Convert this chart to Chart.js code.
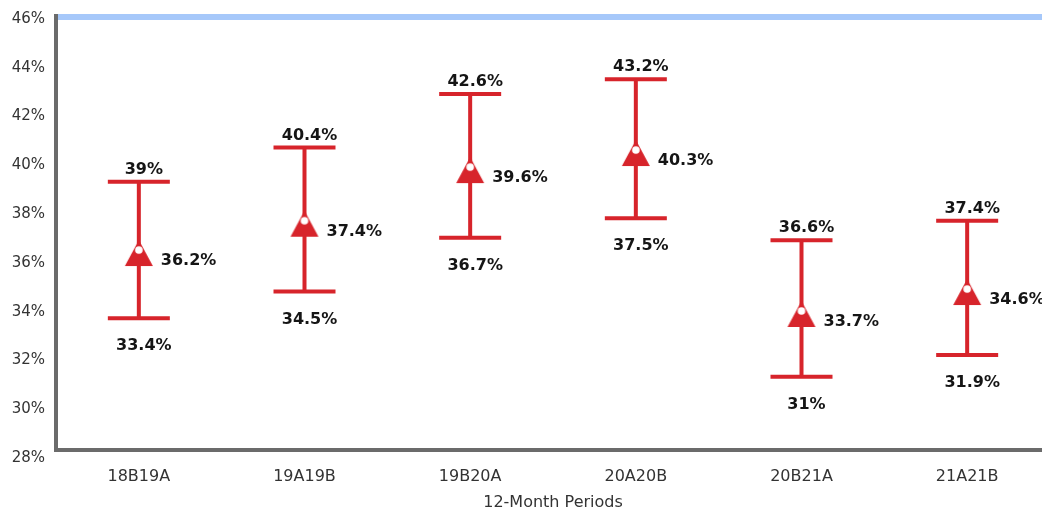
<!DOCTYPE html>
<html>
<head>
<meta charset="utf-8">
<script src="https://cdn.jsdelivr.net/npm/chart.js@4/dist/chart.umd.min.js"></script>
<style>
  html, body { margin: 0; padding: 0; overflow: hidden; background: #fff; }
  canvas { display: block; }
</style>
</head>
<body>
<canvas id="chart" width="1050" height="512"></canvas>
<script>
// 12-month periods and their estimated rate with lower / upper bounds (%)
const periods    = ['18B19A', '19A19B', '19B20A', '20A20B', '20B21A', '21A21B'];
const meanRate   = [36.2, 37.4, 39.6, 40.3, 33.7, 34.6];
const upperBound = [39, 40.4, 42.6, 43.2, 36.6, 37.4];
const lowerBound = [33.4, 34.5, 36.7, 37.5, 31, 31.9];
const yTickValues = [28, 30, 32, 34, 36, 38, 40, 42, 44, 46];

const RED = '#d7242b';
const AXIS_GREY = '#6b6b6b';
const LABEL_FONT = 'bold 16px "DejaVu Sans", sans-serif';
const FONT_FAMILY = '"DejaVu Sans", sans-serif';

// Triangle marker with a white dot; the dot sits exactly on the value
function makeMarker() {
  const c = document.createElement('canvas');
  c.width = 30; c.height = 34;
  const g = c.getContext('2d');
  const cx = 15, cy = 17;
  g.fillStyle = RED;
  g.beginPath();
  g.moveTo(cx, cy - 10);
  g.lineTo(cx + 14, cy + 16);
  g.lineTo(cx - 14, cy + 16);
  g.closePath();
  g.fill();
  g.fillStyle = '#ffffff';
  g.beginPath();
  g.arc(cx, cy, 3.8, 0, Math.PI * 2);
  g.fill();
  return c;
}

// Light blue band along the top of the plot area, and the left axis line below it
const frame = {
  id: 'frame',
  beforeDraw(chart) {
    const { ctx, chartArea } = chart;
    ctx.save();
    ctx.fillStyle = '#a6c8fa';
    ctx.fillRect(chartArea.left, chartArea.top + 3, chartArea.right - chartArea.left, 6);
    ctx.restore();
  },
  beforeDatasetsDraw(chart) {
    const { ctx, chartArea } = chart;
    ctx.save();
    ctx.fillStyle = AXIS_GREY;
    ctx.fillRect(chartArea.left - 2, chartArea.top + 3, 4, chartArea.bottom - chartArea.top - 3);
    ctx.restore();
  }
};

// Range whiskers (vertical stem + caps) behind the markers, value labels on top
const whiskers = {
  id: 'whiskers',
  beforeDatasetsDraw(chart) {
    const { ctx, scales: { x, y } } = chart;
    ctx.save();
    ctx.strokeStyle = RED;
    ctx.lineWidth = 4;
    ctx.lineCap = 'butt';
    periods.forEach((p, i) => {
      const cx = x.getPixelForValue(i);
      const yt = y.getPixelForValue(upperBound[i]);
      const yb = y.getPixelForValue(lowerBound[i]);
      ctx.beginPath();
      ctx.moveTo(cx, yt); ctx.lineTo(cx, yb);
      ctx.moveTo(cx - 31, yt); ctx.lineTo(cx + 31, yt);
      ctx.moveTo(cx - 31, yb); ctx.lineTo(cx + 31, yb);
      ctx.stroke();
    });
    ctx.restore();
  },
  afterDatasetsDraw(chart) {
    const { ctx, scales: { x, y } } = chart;
    ctx.save();
    ctx.font = LABEL_FONT;
    ctx.fillStyle = '#151515';
    ctx.textBaseline = 'middle';
    periods.forEach((p, i) => {
      const cx = x.getPixelForValue(i);
      const yt = y.getPixelForValue(upperBound[i]);
      const yb = y.getPixelForValue(lowerBound[i]);
      const ym = y.getPixelForValue(meanRate[i]);
      ctx.textAlign = 'center';
      ctx.fillText(upperBound[i] + '%', cx + 5, yt - 12);
      ctx.fillText(lowerBound[i] + '%', cx + 5, yb + 28);
      ctx.textAlign = 'left';
      ctx.fillText(meanRate[i] + '%', cx + 22, ym + 11);
    });
    ctx.restore();
  }
};

new Chart(document.getElementById('chart'), {
  type: 'line',
  data: {
    labels: periods,
    datasets: [{
      label: 'Rate',
      data: meanRate,
      showLine: false,
      pointStyle: makeMarker(),
      pointRadius: 15,
      pointHoverRadius: 15,
      borderColor: RED,
      backgroundColor: RED
    }]
  },
  plugins: [frame, whiskers],
  options: {
    responsive: false,
    animation: false,
    events: [],
    layout: { autoPadding: false, padding: { top: 11, right: 0, bottom: 0, left: 0 } },
    plugins: {
      legend: { display: false },
      tooltip: { enabled: false }
    },
    scales: {
      x: {
        type: 'category',
        offset: true,
        grid: { display: false, drawTicks: false },
        border: { display: true, color: AXIS_GREY, width: 4 },
        ticks: {
          color: '#333333',
          padding: 17,
          font: { family: FONT_FAMILY, size: 16 },
          maxRotation: 0
        },
        title: {
          display: true,
          text: '12-Month Periods',
          color: '#333333',
          font: { family: FONT_FAMILY, size: 16 },
          padding: { top: 0, bottom: 0 }
        },
        afterFit(scale) {
          scale.height = 62;
          scale.paddingLeft = 0;
          scale.paddingRight = 0;
        }
      },
      y: {
        min: 28,
        max: 46,
        grid: { display: false, drawTicks: false },
        border: { display: false },
        afterBuildTicks(scale) { scale.ticks = yTickValues.map(v => ({ value: v })); },
        ticks: {
          color: '#333333',
          padding: 11,
          labelOffset: 8,
          font: { family: FONT_FAMILY, size: 15 },
          callback: v => v + '%'
        },
        afterFit(scale) {
          scale.width = 56;
          scale.paddingTop = 0;
          scale.paddingBottom = 0;
        }
      }
    }
  }
});
</script>
</body>
</html>
